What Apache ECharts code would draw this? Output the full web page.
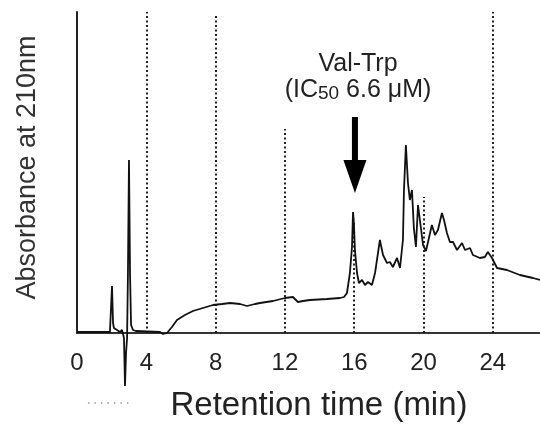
<!DOCTYPE html>
<html>
<head>
<meta charset="utf-8">
<script src="https://cdn.jsdelivr.net/npm/echarts@6/dist/echarts.min.js"></script>
<style>html,body{margin:0;padding:0;background:#fff}#c{width:540px;height:432px}</style>
</head>
<body>
<div id="c"></div>
<script>
// Retention time (min)
const times = [0, 1.90, 2.02, 2.08, 2.13, 2.31, 2.48, 2.60, 2.71, 2.77, 2.83, 2.89, 2.94, 3.00, 3.06, 3.12, 3.23, 3.40,
  4.79, 4.96, 5.19, 5.48, 5.77, 6.23, 6.69, 7.27, 7.85, 8.37, 8.83, 9.41, 9.81, 10.27, 10.56, 11.31, 12.00, 12.46, 12.75,
  13.04, 13.44, 14.43, 15.18, 15.41, 15.58, 15.75, 15.87, 15.93, 15.98, 16.04, 16.16, 16.27, 16.45, 16.62, 16.79, 17.02,
  17.20, 17.37, 17.48, 17.66, 17.89, 18.06, 18.23, 18.47, 18.64, 18.81, 18.87, 18.98, 19.10, 19.21, 19.33, 19.44, 19.56,
  19.68, 19.79, 19.97, 20.14, 20.31, 20.48, 20.66, 20.83, 21.06, 21.18, 21.35, 21.52, 21.70, 21.93, 22.22, 22.39, 22.68,
  22.85, 23.25, 23.54, 23.71, 23.95, 24.24, 24.81, 25.56, 26.31, 26.72];
// Absorbance at 210 nm (arbitrary units)
const absorbance = [1, 1, 47, 10, 5, 3, 1, 3, -5, -53, -20, -5, 60, 173, 60, 8, 3, 2,
  1, -1, 0, 6, 13, 18, 22, 25, 28, 29, 30, 29, 27, 29, 30, 32, 35, 36, 31,
  32, 33, 34, 35, 36, 40, 60, 86, 121, 110, 83, 60, 50, 53, 48, 51, 48,
  60, 80, 93, 78, 70, 71, 66, 75, 65, 93, 143, 188, 150, 133, 143, 105, 86,
  128, 130, 88, 82, 95, 108, 98, 103, 120, 113, 100, 91, 91, 83, 90, 83, 85,
  78, 75, 76, 81, 75, 65, 63, 58, 55, 53];
// Dotted fraction guides
const guideTimes = [4, 8, 12, 16, 20, 24];
const guideTops = [321, 318, 204, 110, 136, 321];
// Tick labels
const xTickLabels = ['0', '4', '8', '12', '16', '20', '24'];
const xTickValues = [0, 4, 8, 12, 16, 20, 24];
// Annotation
const peakTime = 16.04;
const arrowTop = 216, arrowShaftEnd = 168, arrowHeadCenter = 156.5;
// small dotted mark below axis
const markTimes = [0.63, 3.23];
const markLevel = [-70, -70];

const FONT = "'Liberation Sans', Arial, Helvetica, sans-serif";
const chart = echarts.init(document.getElementById('c'), null, {renderer: 'canvas'});

const trace = times.map((t, i) => [t, absorbance[i]]);
const guideLines = guideTimes.map((t, i) => [{coord: [t, 0]}, {coord: [t, guideTops[i]]}]);

chart.setOption({
  animation: false,
  backgroundColor: '#fff',
  grid: {left: 77, right: 0, top: 12, bottom: 99, containLabel: false, outerBoundsMode: 'none'},
  xAxis: {
    type: 'value', min: 0, max: 26.72, interval: 4,
    axisLine: {show: true, onZero: false, lineStyle: {color: '#333', width: 2}},
    axisTick: {show: false},
    splitLine: {show: false},
    axisLabel: {
      margin: 18, color: '#222', fontSize: 24, fontFamily: FONT,
      showMaxLabel: false,
      formatter: v => { const k = xTickValues.indexOf(v); return k >= 0 ? xTickLabels[k] : ''; }
    },
    name: 'Retention time (min)', nameLocation: 'middle', nameGap: 56,
    nameTextStyle: {fontSize: 33, color: '#222', fontFamily: FONT, padding: [0, 0, 0, 21]}
  },
  yAxis: {
    type: 'value', min: 0, max: 321,
    axisLine: {show: true, lineStyle: {color: '#222', width: 2}},
    axisTick: {show: false}, axisLabel: {show: false}, splitLine: {show: false},
    name: 'Absorbance at 210nm', nameLocation: 'middle', nameRotate: 90, nameGap: 36,
    nameTextStyle: {fontSize: 27, color: '#333', fontFamily: FONT, padding: [0, 0, 0, 10]}
  },
  graphic: [{
    type: 'text', x: 358, y: 51, z: 100,
    style: {
      text: '{a|Val-Trp}\n{a|(IC}{s|50}{a| 6.6 μM)}',
      textAlign: 'center', textVerticalAlign: 'top',
      rich: {
        a: {fontSize: 25, lineHeight: 26, fontFamily: FONT, fill: '#222'},
        s: {fontSize: 19, lineHeight: 26, fontFamily: FONT, fill: '#222', verticalAlign: 'bottom'}
      }
    }
  }],
  series: [
    {
      type: 'line', data: trace, showSymbol: false, symbol: 'none', clip: false,
      lineStyle: {color: '#111', width: 1.8}, z: 5,
      markLine: {
        silent: true, symbol: ['none', 'none'], label: {show: false},
        lineStyle: {color: '#222', type: [2, 2.5], width: 2}, data: guideLines
      }
    },
    {
      type: 'line', data: [[peakTime, arrowTop], [peakTime, arrowShaftEnd]], symbol: 'none', clip: false,
      lineStyle: {color: '#000', width: 6, cap: 'butt'}, z: 6
    },
    {
      type: 'scatter', data: [[peakTime, arrowHeadCenter]], symbol: 'triangle', symbolSize: [23, 33],
      symbolRotate: 180, itemStyle: {color: '#000', opacity: 1}, clip: false, z: 6
    },
    {
      type: 'line', data: markTimes.map((t, i) => [t, markLevel[i]]), symbol: 'none', clip: false,
      lineStyle: {color: '#999', type: [1.5, 5], width: 1.5}, z: 2
    }
  ]
});
</script>
</body>
</html>
